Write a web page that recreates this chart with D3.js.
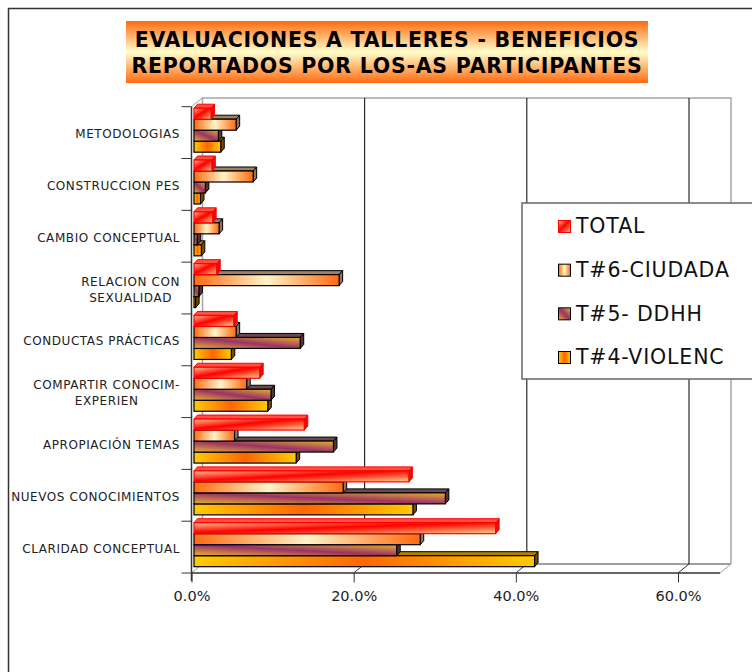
<!DOCTYPE html>
<html>
<head>
<meta charset="utf-8">
<script src="https://cdn.jsdelivr.net/npm/d3@7/dist/d3.min.js"></script>
<style>
  body { margin: 0; background: #fff; }
  text { font-family: "DejaVu Sans", Verdana, sans-serif; }
</style>
</head>
<body>
<div id="chart"></div>
<script>
"use strict";

let categories = ["METODOLOGIAS", "CONSTRUCCION PES", "CAMBIO CONCEPTUAL", "RELACION CON|SEXUALIDAD", "CONDUCTAS PRÁCTICAS", "COMPARTIR CONOCIM-|EXPERIEN", "APROPIACIÓN TEMAS", "NUEVOS CONOCIMIENTOS", "CLARIDAD CONCEPTUAL"];
let seriesNames = ["TOTAL", "T#6-CIUDADA", "T#5- DDHH", "T#4-VIOLENC"];
let total = [2.1, 2.2, 2.3, 2.8, 4.9, 8.1, 13.6, 26.5, 37.2];
let ciudada = [5.2, 7.3, 3.1, 17.9, 5.2, 6.5, 5.0, 18.4, 27.9];
let ddhh = [3.0, 1.4, 0.4, 0.6, 13.1, 9.5, 17.2, 31.0, 25.0];
let violenc = [3.3, 0.8, 0.9, 0.2, 4.6, 9.1, 12.6, 27.0, 42.0];
let xTicks = [0, 20, 40, 60];

let seriesValues = [total, ciudada, ddhh, violenc];
let strokes = ["#ff0000", "#000000", "#000000", "#000000"];
let sideColors = ["#e01010", "#8a7560", "#5a3040", "#7a4a00"];
let topColors = ["#ff5040", "#a08060", "#6a4a50", "#b08000"];

let width = 752, height = 672;
let svg = d3.select("#chart").append("svg").attr("width", width).attr("height", height);
let defs = svg.append("defs");

function gradient(id, x1, y1, x2, y2, stops) {
  let g = defs.append("linearGradient").attr("id", id)
    .attr("x1", x1).attr("y1", y1).attr("x2", x2).attr("y2", y2);
  stops.forEach(s => g.append("stop").attr("offset", s[0]).attr("stop-color", s[1]));
}

gradient("fillTotal", 0, 0, 1, 1, [[0, "#ffc090"], [0.45, "#ff0000"], [0.55, "#ff2010"], [1, "#ffd090"]]);
gradient("fillCiudada", 0, 0, 1, 0, [[0, "#ff6a10"], [0.5, "#fff4c8"], [1, "#ff6a10"]]);
gradient("fillDdhh", 0, 1, 1, 0, [[0, "#e8b030"], [0.5, "#993366"], [1, "#e8b030"]]);
gradient("fillViolenc", 0, 0, 1, 0, [[0, "#ffcc00"], [0.5, "#ff6600"], [1, "#ffcc00"]]);
gradient("fillTitle", 0, 0, 0, 1, [[0, "#ff6a10"], [0.5, "#ffffcc"], [1, "#ff6a10"]]);
let fills = ["url(#fillTotal)", "url(#fillCiudada)", "url(#fillDdhh)", "url(#fillViolenc)"];

// frame, open on the right and bottom where the picture is cut
svg.append("path")
  .attr("d", "M8.5,672V8.5H752")
  .attr("fill", "none").attr("stroke", "#333").attr("stroke-width", 1.5);

// title
svg.append("rect").attr("x", 126).attr("y", 21).attr("width", 522).attr("height", 62).attr("fill", "url(#fillTitle)");
svg.append("text").attr("x", 387).attr("y", 47).attr("text-anchor", "middle")
  .attr("font-size", 20.5).attr("font-weight", "bold").attr("letter-spacing", 0.75)
  .text("EVALUACIONES A TALLERES - BENEFICIOS");
svg.append("text").attr("x", 387).attr("y", 72.5).attr("text-anchor", "middle")
  .attr("font-size", 20.5).attr("font-weight", "bold").attr("letter-spacing", 0.75)
  .text("REPORTADOS POR LOS-AS PARTICIPANTES");

// scales
let depthX = 11, depthY = 9;
let floorY = 573;
let x = d3.scaleLinear().domain([0, 60]).range([191.5, 678]);
let xMax = 720;
let yBand = d3.scaleBand().domain(categories).range([106.7, floorY]);
let yBar = d3.scaleBand().domain(d3.range(4)).range([1.5, 45.5]);

// back wall and floor
let wall = svg.append("g").attr("fill", "none");
wall.append("path")
  .attr("d", `M${x(0) + depthX},${floorY - depthY} V98 H${xMax + depthX} V${floorY - depthY}`)
  .attr("stroke", "#a6a6a6").attr("stroke-width", 1.5);
wall.append("path")
  .attr("d", `M${x(0) + depthX},${floorY - depthY} H${xMax + depthX}`)
  .attr("stroke", "#808080").attr("stroke-width", 1.5);
wall.append("path")
  .attr("d", `M${x(0)},${floorY} l${depthX},-${depthY} M${xMax},${floorY} l${depthX},-${depthY} M${x(0)},106.7 l${depthX},-${depthY}`)
  .attr("stroke", "#a0a0a0").attr("stroke-width", 1);

// gridlines on the back wall
xTicks.slice(1).forEach(t => {
  wall.append("line")
    .attr("x1", x(t) + depthX).attr("x2", x(t) + depthX)
    .attr("y1", 98).attr("y2", floorY - depthY)
    .attr("stroke", "#000");
  wall.append("line")
    .attr("x1", x(t)).attr("x2", x(t) + depthX)
    .attr("y1", floorY).attr("y2", floorY - depthY)
    .attr("stroke", "#333");
});

// bars, drawn from the bottom group up so the upper faces overlap properly
let barDx = 3.5, barDy = 4, barInset = 2.5;
let groups = svg.append("g").selectAll("g")
  .data(categories.map((c, i) => ({ c, i })).reverse())
  .enter().append("g")
  .attr("transform", d => `translate(0,${yBand(d.c)})`);

groups.each(function(d) {
  let g = d3.select(this);
  [3, 2, 1, 0].forEach(s => {
    let x0 = x(0) + barInset;
    let x1 = x(seriesValues[s][d.i]) + barInset;
    let y0 = yBar(s);
    let h = yBar.bandwidth();
    g.append("path")
      .attr("d", `M${x0},${y0} l${barDx},-${barDy} H${x1 + barDx} L${x1},${y0} Z`)
      .attr("fill", topColors[s]).attr("stroke", strokes[s]);
    g.append("path")
      .attr("d", `M${x1},${y0} l${barDx},-${barDy} v${h} l-${barDx},${barDy} Z`)
      .attr("fill", sideColors[s]).attr("stroke", strokes[s]);
    g.append("rect")
      .attr("x", x0).attr("y", y0)
      .attr("width", x1 - x0).attr("height", h)
      .attr("fill", fills[s]).attr("stroke", strokes[s]).attr("stroke-width", 1.2);
  });
});

// x axis
let xAxis = d3.axisBottom(x)
  .tickValues(xTicks)
  .tickFormat(d => d.toFixed(1) + "%")
  .tickSize(9.5)
  .tickPadding(8);
let xG = svg.append("g").attr("transform", `translate(0,${floorY})`).call(xAxis);
xG.select(".domain").attr("d", `M${x(0)},0H${xMax}`).attr("stroke", "#333").attr("stroke-width", 1.5);
xG.selectAll("line").attr("stroke", "#333");
xG.selectAll("text").attr("font-size", 14.5).attr("fill", "#222");

// y axis
let yEdges = categories.map(c => yBand(c)).concat([floorY]);
svg.append("g").selectAll("line").data(yEdges).enter().append("line")
  .attr("x1", x(0) - 10).attr("x2", x(0))
  .attr("y1", d => d).attr("y2", d => d)
  .attr("stroke", "#333");
svg.append("line").attr("x1", x(0)).attr("x2", x(0)).attr("y1", 106.7).attr("y2", 581)
  .attr("stroke", "#333").attr("stroke-width", 1.5);

// category labels, "|" is where the original wraps; wrapped lines centre under the first one
let labelRight = 180;
let labels = svg.append("g").selectAll("text")
  .data(categories).enter().append("text")
  .attr("font-size", 12).attr("letter-spacing", 0.58).attr("fill", "#222");
labels.each(function(d) {
  let parts = d.split("|");
  let mid = yBand(d) + yBand.bandwidth() / 2 + 1;
  let t = d3.select(this);
  let centre = labelRight;
  parts.forEach((p, i) => {
    let span = t.append("tspan")
      .attr("y", mid + 4.5 + (i - (parts.length - 1) / 2) * 16)
      .text(p);
    if (i === 0) {
      span.attr("x", labelRight).attr("text-anchor", "end");
      centre = labelRight - span.node().getComputedTextLength() / 2;
    } else {
      span.attr("x", centre).attr("text-anchor", "middle");
    }
  });
});

// legend
let legend = svg.append("g");
legend.append("rect").attr("x", 522).attr("y", 203).attr("width", 240).attr("height", 176)
  .attr("fill", "#fff").attr("stroke", "#666").attr("stroke-width", 1.5);
let legendY = d3.scalePoint().domain(seriesNames).range([226.5, 357.5]);
let items = legend.selectAll(".item").data(seriesNames).enter().append("g")
  .attr("class", "item")
  .attr("transform", d => `translate(0,${legendY(d)})`);
items.append("rect").attr("x", 558.5).attr("y", -6).attr("width", 12).attr("height", 12)
  .attr("fill", (d, i) => fills[i]).attr("stroke", (d, i) => strokes[i]);
items.append("text").attr("x", 576).attr("y", 6.7).attr("font-size", 20.5).attr("letter-spacing", 0.85)
  .attr("fill", "#111").text(d => d);
</script>
</body>
</html>
